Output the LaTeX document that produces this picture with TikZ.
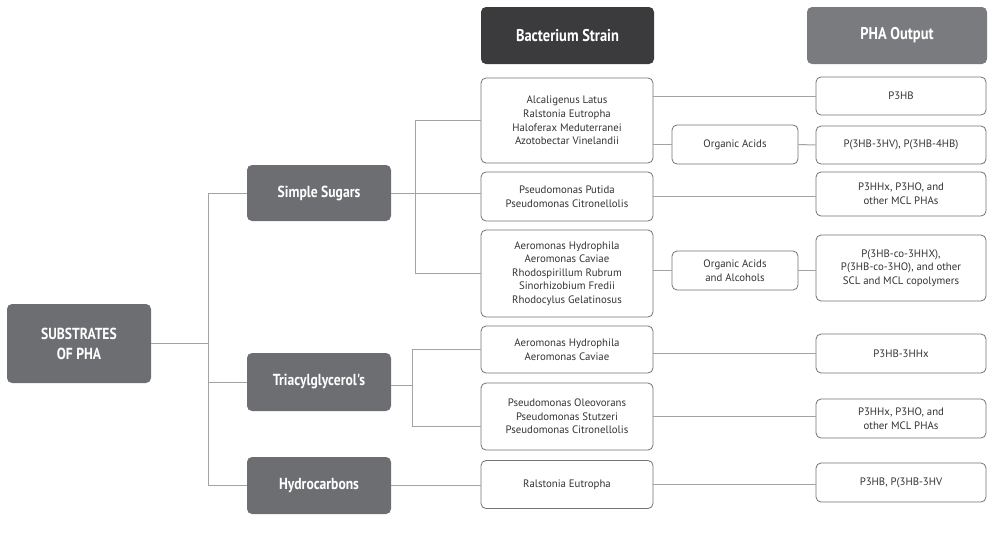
\documentclass[tikz,border=0pt]{standalone}
\usepackage{fontspec}
\setmainfont{PT Sans}
\newfontfamily\headfont{PT Sans}[FakeStretch=0.85]
\usepackage{tikz}

\definecolor{midgray}{HTML}{6D6E71}
\definecolor{darkgray}{HTML}{3B3B3D}
\definecolor{outgray}{HTML}{7A7B7E}
\definecolor{boxline}{HTML}{737373}
\definecolor{linegray}{HTML}{A3A3A3}
\definecolor{textgray}{HTML}{333333}

\begin{document}
\begin{tikzpicture}[
  x=1pt, y=-1pt,
  every node/.style={rounded corners=5pt, align=center, inner sep=2pt},
  sub/.style={fill=midgray, text=white, minimum width=144pt,
    font=\headfont\bfseries\fontsize{16}{20}\selectfont},
  head/.style={text=white, minimum width=173pt, minimum height=57pt,
    font=\headfont\bfseries\fontsize{17}{20}\selectfont},
  strain/.style={draw=boxline, fill=white, text=textgray, line width=0.8pt,
    minimum width=172pt, font=\fontsize{10.8}{13.6}\selectfont},
  acid/.style={strain, minimum width=126pt, minimum height=39pt},
  pha/.style={strain, minimum width=170pt},
  link/.style={draw=linegray, line width=1pt}
]
\useasboundingbox (0,0) rectangle (988,536);

\node[sub, minimum height=79pt] (root) at (79,343.5) {SUBSTRATES\\OF PHA};
\node[sub, minimum height=56pt] (sugars) at (319,193) {Simple Sugars};
\node[sub, minimum height=58pt] (tag) at (319,382) {Triacylglycerol's};
\node[sub, minimum height=57pt] (hydro) at (319,485.5) {Hydrocarbons};

\node[head, fill=darkgray] (hstrain) at (567.5,35.5) {Bacterium Strain};
\node[head, fill=outgray, minimum width=180pt] (hout) at (897,35.5) {PHA Output};

\node[strain, minimum height=85pt] (s1) at (567,120.5)
  {Alcaligenus Latus\\Ralstonia Eutropha\\Haloferax Meduterranei\\Azotobectar Vinelandii};
\node[strain, minimum height=49pt] (s2) at (567,196.5)
  {Pseudomonas Putida\\Pseudomonas Citronellolis};
\node[strain, minimum height=87pt] (s3) at (567,273.5)
  {Aeromonas Hydrophila\\Aeromonas Caviae\\Rhodospirillum Rubrum\\Sinorhizobium Fredii\\Rhodocylus Gelatinosus};
\node[strain, minimum height=47pt] (s4) at (567,349.5)
  {Aeromonas Hydrophila\\Aeromonas Caviae};
\node[strain, minimum height=67pt] (s5) at (567,416.5)
  {Pseudomonas Oleovorans\\Pseudomonas Stutzeri\\Pseudomonas Citronellolis};
\node[strain, minimum height=48pt] (s6) at (567,484.5) {Ralstonia Eutropha};

\node[acid] (acid1) at (735,144.5) {Organic Acids};
\node[acid] (acid2) at (735,270.5) {Organic Acids\\and Alcohols};

\node[pha, minimum height=38pt] (o1) at (901,96) {P3HB};
\node[pha, minimum height=38pt] (o2) at (901,145) {P(3HB-3HV), P(3HB-4HB)};
\node[pha, minimum height=44pt] (o3) at (901,194) {P3HHx, P3HO, and\\other MCL PHAs};
\node[pha, minimum height=66pt] (o4) at (901,268)
  {P(3HB-co-3HHX),\\P(3HB-co-3HO), and other\\SCL and MCL copolymers};
\node[pha, minimum height=39pt] (o5) at (901,353.5) {P3HB-3HHx};
\node[pha, minimum height=39pt] (o6) at (901,418.5) {P3HHx, P3HO, and\\other MCL PHAs};
\node[pha, minimum height=39pt] (o7) at (901,482.5) {P3HB, P(3HB-3HV};

\coordinate (j1) at (208,343.5);
\coordinate (j2) at (415,193);
\coordinate (j3) at (412,385);

\draw[link] (root.east) -- (j1);
\draw[link] (j1) |- (sugars.west);
\draw[link] (j1) |- (tag.west);
\draw[link] (j1) |- (hydro.west);

\draw[link] (sugars.east) -- (j2);
\draw[link] (j2) |- (s1.west);
\draw[link] (j2) -- (j2 -| s2.west);
\draw[link] (j2) |- (s3.west);

\draw[link] (j3 -| tag.east) -- (j3);
\draw[link] (j3) |- (s4.west);
\draw[link] (j3) |- ([yshift=-9.5pt]s5.west);
\draw[link] (hydro.east) -- (hydro.east -| s6.west);

\draw[link] (s1.east |- o1.west) -- (o1.west);
\draw[link] (s1.east |- acid1.west) -- (acid1.west);
\draw[link] (acid1.east) -- (o2.west);
\draw[link] (s2.east) -- (s2.east -| o3.west);
\draw[link] (s3.east |- acid2.west) -- (acid2.west);
\draw[link] (acid2.east) -- (acid2.east -| o4.west);
\draw[link] (s4.east |- o5.west) -- (o5.west);
\draw[link] (s5.east) -- (s5.east -| o6.west);
\draw[link] (s6.east) -- (s6.east -| o7.west);
\end{tikzpicture}
\end{document}
